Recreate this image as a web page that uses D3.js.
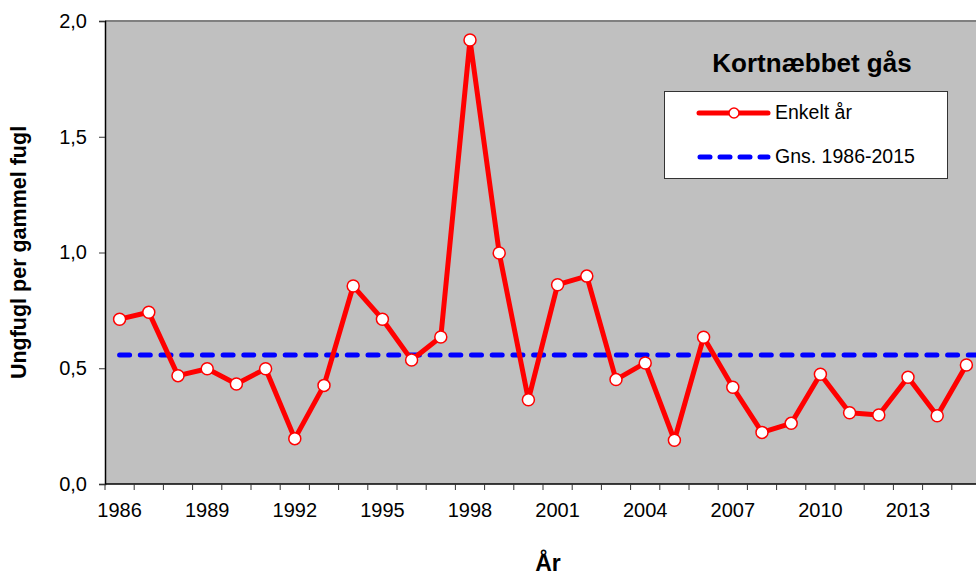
<!DOCTYPE html>
<html>
<head>
<meta charset="utf-8">
<script src="https://cdn.jsdelivr.net/npm/d3@7"></script>
<style>
  body { margin: 0; background: #fff; overflow: hidden; }
  text { font-family: "Liberation Sans", Arial, sans-serif; }
</style>
</head>
<body>
<svg id="chart"></svg>
<script>
// data
const years = d3.range(1986, 2016);
const values = [0.712, 0.742, 0.468, 0.498, 0.432, 0.498, 0.196, 0.426, 0.855, 0.712,
  0.536, 0.635, 1.918, 0.998, 0.364, 0.861, 0.898, 0.451, 0.523, 0.189,
  0.634, 0.418, 0.223, 0.262, 0.474, 0.308, 0.298, 0.461, 0.295, 0.514];
const avg = 0.557;
const yTicks = [0, 0.5, 1.0, 1.5, 2.0];
const xLabelYears = d3.range(1986, 2016, 3);

const width = 976, height = 576;
const margin = { top: 21, left: 105, bottom: 92 };
const plotW = 30 * 29.2;
const plotH = height - margin.top - margin.bottom;

const svg = d3.select("#chart").attr("width", width).attr("height", height);

const x = d3.scaleBand().domain(years).range([margin.left, margin.left + plotW]);
const y = d3.scaleLinear().domain([0, 2]).range([margin.top + plotH, margin.top]);
const cx = (yr) => x(yr) + x.bandwidth() / 2;

// plot area
svg.append("rect")
  .attr("x", margin.left).attr("y", margin.top)
  .attr("width", plotW).attr("height", plotH)
  .attr("fill", "#c0c0c0");
svg.append("line")
  .attr("x1", margin.left).attr("x2", margin.left + plotW)
  .attr("y1", margin.top).attr("y2", margin.top)
  .attr("stroke", "#808080").attr("stroke-width", 2);

// y axis
const yAxis = svg.append("g")
  .attr("transform", `translate(${margin.left},0)`)
  .call(d3.axisLeft(y).tickValues(yTicks).tickSize(6).tickPadding(12)
    .tickFormat((d) => d3.format(".1f")(d).replace(".", ",")));
yAxis.select(".domain").attr("stroke", "#000").attr("stroke-width", 1.5);
yAxis.selectAll(".tick line").attr("stroke", "#333");
yAxis.selectAll("text").attr("font-size", 20).attr("fill", "#000")
  .style("font-family", "Liberation Sans, Arial, sans-serif");

// x axis: ticks on category boundaries, labels at centers
const xAxisG = svg.append("g").attr("transform", `translate(0,${margin.top + plotH})`);
xAxisG.append("line")
  .attr("x1", margin.left).attr("x2", margin.left + plotW)
  .attr("stroke", "#000").attr("stroke-width", 1.5);
xAxisG.selectAll(".tk")
  .data(years.concat([2016]))
  .join("line")
  .attr("x1", (d) => (d === 2016 ? margin.left + plotW : x(d)))
  .attr("x2", (d) => (d === 2016 ? margin.left + plotW : x(d)))
  .attr("y1", 0).attr("y2", 6)
  .attr("stroke", "#333");
xAxisG.selectAll(".lbl")
  .data(xLabelYears)
  .join("text")
  .attr("x", (d) => cx(d))
  .attr("y", 33)
  .attr("text-anchor", "middle")
  .attr("font-size", 20)
  .text((d) => d);

// average line
svg.append("line")
  .attr("x1", cx(1986)).attr("x2", margin.left + plotW)
  .attr("y1", y(avg)).attr("y2", y(avg))
  .attr("stroke", "#0000ff").attr("stroke-width", 5)
  .attr("stroke-dasharray", "10 10.7")
  .attr("stroke-linecap", "round");

// series line
const line = d3.line().x((d, i) => cx(years[i])).y((d) => y(d));
svg.append("path")
  .datum(values)
  .attr("d", line)
  .attr("fill", "none")
  .attr("stroke", "#ff0000")
  .attr("stroke-width", 5)
  .attr("stroke-linejoin", "round");

svg.selectAll(".pt")
  .data(values)
  .join("circle")
  .attr("cx", (d, i) => cx(years[i]))
  .attr("cy", (d) => y(d))
  .attr("r", 6)
  .attr("fill", "#fff")
  .attr("stroke", "#ff0000")
  .attr("stroke-width", 1.5);

// title
svg.append("text")
  .attr("x", 812).attr("y", 72)
  .attr("text-anchor", "middle")
  .attr("font-size", 26).attr("font-weight", "bold")
  .text("Kortnæbbet gås");

// legend
const lg = svg.append("g");
lg.append("rect")
  .attr("x", 664.5).attr("y", 91.5).attr("width", 283).attr("height", 87)
  .attr("fill", "#fff").attr("stroke", "#333").attr("stroke-width", 1);
lg.append("line")
  .attr("x1", 699).attr("x2", 768).attr("y1", 113).attr("y2", 113)
  .attr("stroke", "#ff0000").attr("stroke-width", 5).attr("stroke-linecap", "round");
lg.append("circle")
  .attr("cx", 734).attr("cy", 113).attr("r", 5)
  .attr("fill", "#fff").attr("stroke", "#ff0000").attr("stroke-width", 1.5);
lg.append("text").attr("x", 775).attr("y", 119).attr("font-size", 19.5).text("Enkelt år");
lg.append("line")
  .attr("x1", 700).attr("x2", 768).attr("y1", 157).attr("y2", 157)
  .attr("stroke", "#0000ff").attr("stroke-width", 5)
  .attr("stroke-dasharray", "10 10").attr("stroke-linecap", "round");
lg.append("text").attr("x", 775).attr("y", 163).attr("font-size", 19.5).text("Gns. 1986-2015");

// axis titles
svg.append("text")
  .attr("transform", `translate(26,${margin.top + plotH / 2}) rotate(-90)`)
  .attr("text-anchor", "middle")
  .attr("font-size", 21.5).attr("font-weight", "bold")
  .text("Ungfugl per gammel fugl");
svg.append("text")
  .attr("x", 548).attr("y", 571)
  .attr("text-anchor", "middle")
  .attr("font-size", 23).attr("font-weight", "bold")
  .text("År");
</script>
</body>
</html>
